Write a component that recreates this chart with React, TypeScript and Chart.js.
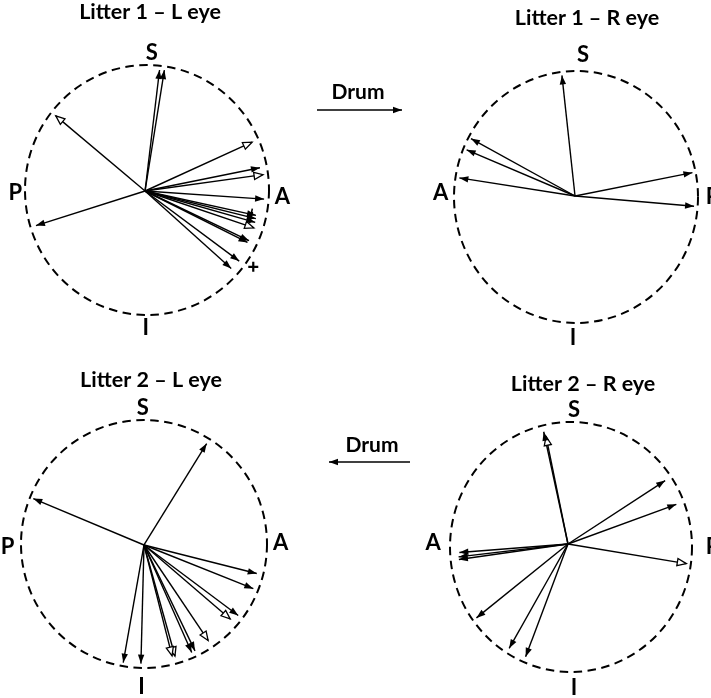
import { useEffect, useRef } from "react";
import { Chart, registerables } from "chart.js";

Chart.register(...registerables);

// ---------- data (angle in degrees, counter-clockwise from right; length as fraction of the circle radius) ----------
const panelTitles = ["Litter 1 – L eye", "Litter 1 – R eye", "Litter 2 – L eye", "Litter 2 – R eye"];
// axis letters: top, left, right, bottom
const panelLetters = [
  ["S", "P", "A", "I"],
  ["S", "A", "P", "I"],
  ["S", "P", "A", "I"],
  ["S", "A", "P", "I"],
];

const l1LAngles = [83.0, 80.7, 140.6, 24.0, 11.2, 7.7, -3.8, -12.1, -13.7, -15.5, -18.3, -25.0, -26.1, -36.0, -41.3, 197.2];
const l1LLengths = [0.975, 0.98, 0.947, 0.96, 0.96, 0.976, 0.978, 0.93, 0.935, 0.937, 0.94, 0.94, 0.935, 0.954, 0.94, 0.936];
const l1LHeads = ["f", "f", "o", "o", "f", "o", "f", "b", "b", "f", "o", "f", "f", "f", "f", "f"];

const l1RAngles = [96.4, 151.9, 157.6, 171.4, 10.9, -4.8];
const l1RLengths = [0.963, 0.967, 0.961, 0.959, 0.98, 0.979];
const l1RHeads = ["f", "f", "f", "f", "f", "f"];

const l2LAngles = [58.1, 157.4, -14.1, -21.6, -36.6, -40.4, -55.9, -64.1, -65.9, -74.3, -75.7, -91.5, -100.1];
const l2LLengths = [0.964, 0.975, 0.945, 0.956, 0.954, 0.92, 0.93, 0.949, 0.95, 0.93, 0.923, 0.957, 0.963];
const l2LHeads = ["f", "f", "f", "f", "f", "o", "o", "f", "f", "o", "o", "f", "f"];

const l2RAngles = [101.9, 102.6, 32.3, 19.5, -9.1, 184.3, 186.5, 187.8, 218.0, 239.8, 248.8];
const l2RLengths = [0.88, 0.92, 0.95, 0.95, 0.99, 0.9, 0.91, 0.91, 0.96, 0.966, 0.968];
const l2RHeads = ["o", "f", "f", "f", "o", "f", "f", "f", "f", "f", "f"];

// extra "+" mark (panel 1)
const crossAngles = [-35.2];
const crossLengths = [1.066];

const drumLabels = ["Drum", "Drum"];

const panelAngles = [l1LAngles, l1RAngles, l2LAngles, l2RAngles];
const panelLengths = [l1LLengths, l1RLengths, l2LLengths, l2RLengths];
const panelHeads = [l1LHeads, l1RHeads, l2LHeads, l2RHeads];

// ---------- layout ----------
const W = 711;
const H = 698;
const layout = [
  { cx: 147, cy: 190, rx: 122, ry: 125, ox: -0.016, oy: -0.008,
    title: [0.025, 1.42], lab: [[0.04, 1.1], [-1.08, -0.02], [1.11, -0.056], [-0.01, -1.1]] },
  { cx: 576, cy: 197, rx: 122, ry: 126, ox: -0.008, oy: 0.008,
    title: [0.09, 1.42], lab: [[0.057, 1.13], [-1.11, 0.03], [1.12, 0.0], [-0.025, -1.12]] },
  { cx: 144, cy: 544, rx: 123, ry: 124, ox: 0.0, oy: -0.008,
    title: [0.057, 1.32], lab: [[-0.01, 1.1], [-1.11, -0.02], [1.11, 0.01], [-0.02, -1.15]] },
  { cx: 571, cy: 547, rx: 121, ry: 125, ox: -0.025, oy: 0.024,
    title: [0.1, 1.3], lab: [[0.025, 1.1], [-1.14, 0.03], [1.17, 0.0], [0.025, -1.125]] },
];
const drums = [
  { tx: 358, ty: 92, x0: 317, x1: 402, y: 110, dir: 1 },
  { tx: 372, ty: 445, x0: 329, x1: 410, y: 462, dir: -1 },
];

const FONT = "Lato, 'Open Sans', 'DejaVu Sans', sans-serif";

function rad(d: number) {
  return (d * Math.PI) / 180;
}

function drawHead(ctx: CanvasRenderingContext2D, x0: number, y0: number, x1: number, y1: number, type: string) {
  const a = Math.atan2(y1 - y0, x1 - x0);
  const L = 9;
  const w = type === "o" ? 3.6 : 3.2;
  const bx = x1 - L * Math.cos(a);
  const by = y1 - L * Math.sin(a);
  const nx = -Math.sin(a) * w;
  const ny = Math.cos(a) * w;
  ctx.beginPath();
  ctx.moveTo(x1, y1);
  ctx.lineTo(bx + nx, by + ny);
  ctx.lineTo(bx - nx, by - ny);
  ctx.closePath();
  if (type === "o") {
    ctx.fillStyle = "#fff";
    ctx.fill();
    ctx.lineWidth = 1.3;
    ctx.strokeStyle = "#000";
    ctx.stroke();
  } else {
    ctx.fillStyle = "#000";
    ctx.fill();
    if (type === "b") {
      ctx.beginPath();
      const cx = x1 - 5 * Math.cos(a);
      const cy = y1 - 5 * Math.sin(a);
      ctx.moveTo(cx + nx * 1.8, cy + ny * 1.8);
      ctx.lineTo(cx - nx * 1.8, cy - ny * 1.8);
      ctx.lineWidth = 1.6;
      ctx.strokeStyle = "#000";
      ctx.stroke();
    }
  }
}

const figurePlugin = {
  id: "figure",
  beforeDatasetsDraw(chart: any) {
    const ctx: CanvasRenderingContext2D = chart.ctx;
    ctx.save();
    layout.forEach((_p, i) => {
      const xs = chart.scales["x" + i];
      const ys = chart.scales["y" + i];
      const cx = xs.getPixelForValue(0);
      const cy = ys.getPixelForValue(0);
      const rx = Math.abs(xs.getPixelForValue(1) - cx);
      const ry = Math.abs(ys.getPixelForValue(1) - cy);
      ctx.beginPath();
      ctx.setLineDash([8.5, 5.5]);
      ctx.lineWidth = 2;
      ctx.strokeStyle = "#000";
      ctx.ellipse(cx, cy, rx, ry, 0, 0, Math.PI * 2);
      ctx.stroke();
    });
    ctx.restore();
  },
  afterDatasetsDraw(chart: any) {
    const ctx: CanvasRenderingContext2D = chart.ctx;
    ctx.save();
    ctx.setLineDash([]);
    chart.data.datasets.forEach((ds: any, i: number) => {
      if (!ds.head) return;
      const meta = chart.getDatasetMeta(i);
      const p0 = meta.data[0];
      const p1 = meta.data[1];
      drawHead(ctx, p0.x, p0.y, p1.x, p1.y, ds.head);
    });
    // labels
    ctx.fillStyle = "#000";
    ctx.textAlign = "center";
    ctx.textBaseline = "middle";
    layout.forEach((p, i) => {
      const xs = chart.scales["x" + i];
      const ys = chart.scales["y" + i];
      ctx.font = `bold 21.5px ${FONT}`;
      ctx.fillText(panelTitles[i], xs.getPixelForValue(p.title[0]), ys.getPixelForValue(p.title[1]));
      ctx.font = `bold 22px ${FONT}`;
      panelLetters[i].forEach((t, k) => {
        ctx.fillText(t, xs.getPixelForValue(p.lab[k][0]), ys.getPixelForValue(p.lab[k][1]));
      });
    });
    // drum annotations
    drums.forEach((d, i) => {
      ctx.font = `bold 21px ${FONT}`;
      ctx.fillText(drumLabels[i], d.tx, d.ty);
      ctx.beginPath();
      ctx.moveTo(d.x0, d.y);
      ctx.lineTo(d.x1, d.y);
      ctx.lineWidth = 1.5;
      ctx.strokeStyle = "#000";
      ctx.stroke();
      if (d.dir > 0) drawHead(ctx, d.x0, d.y, d.x1, d.y, "f");
      else drawHead(ctx, d.x1, d.y, d.x0, d.y, "f");
    });
    ctx.restore();
  },
};

export default function App() {
  const ref = useRef<HTMLCanvasElement | null>(null);

  useEffect(() => {
    if (!ref.current) return;
    const datasets: any[] = [];
    const scales: any = {};
    layout.forEach((p, i) => {
      scales["x" + i] = {
        type: "linear", axis: "x", display: false,
        min: -p.cx / p.rx, max: (W - p.cx) / p.rx,
      };
      scales["y" + i] = {
        type: "linear", axis: "y", display: false,
        min: -(H - p.cy) / p.ry, max: p.cy / p.ry,
      };
      panelAngles[i].forEach((ang, k) => {
        const len = panelLengths[i][k];
        datasets.push({
          data: [
            { x: p.ox, y: p.oy },
            { x: p.ox + len * Math.cos(rad(ang)), y: p.oy + len * Math.sin(rad(ang)) },
          ],
          xAxisID: "x" + i,
          yAxisID: "y" + i,
          showLine: true,
          borderColor: "#000",
          borderWidth: 1.4,
          pointRadius: 0,
          pointHoverRadius: 0,
          head: panelHeads[i][k],
        });
      });
    });
    datasets.push({
      data: crossAngles.map((a, k) => ({ x: crossLengths[k] * Math.cos(rad(a)), y: crossLengths[k] * Math.sin(rad(a)) })),
      xAxisID: "x0",
      yAxisID: "y0",
      showLine: false,
      pointStyle: "cross",
      pointRadius: 5,
      pointBorderWidth: 2.2,
      pointBorderColor: "#000",
      borderColor: "#000",
    });

    const chart = new Chart(ref.current, {
      type: "scatter",
      data: { datasets },
      options: {
        animation: false,
        responsive: false,
        events: [],
        layout: { padding: 0, autoPadding: false },
        plugins: { legend: { display: false }, tooltip: { enabled: false }, title: { display: false } },
        scales,
      },
      plugins: [figurePlugin],
    } as any);
    return () => chart.destroy();
  }, []);

  return (
    <div style={{ position: "absolute", left: 0, top: 0, width: W, height: H, background: "#fff" }}>
      <canvas ref={ref} width={W} height={H} style={{ display: "block" }} />
    </div>
  );
}
